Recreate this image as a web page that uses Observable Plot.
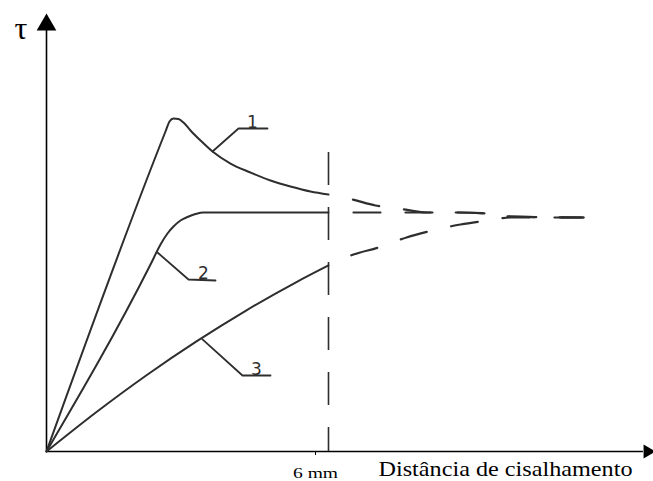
<!DOCTYPE html>
<html>
<head>
<meta charset="utf-8">
<script src="https://cdn.jsdelivr.net/npm/d3@7"></script>
<script src="https://cdn.jsdelivr.net/npm/@observablehq/plot@0.6"></script>
<style>
  html, body { margin: 0; padding: 0; background: #fff; }
</style>
</head>
<body>
<div id="chart"></div>
<script>
// Shear displacement (mm) and shear stress tau (arbitrary units, axis top = 100)
const curve1X = [0, 2.532, 2.617, 2.702, 2.809, 2.915, 3.064, 3.277, 3.532, 3.915, 4.340, 4.766, 5.191, 5.617, 6.0];
const curve1T = [0, 73.06, 75.34, 76.03, 75.91, 75.11, 73.29, 71.0, 68.49, 65.75, 63.70, 61.87, 60.50, 59.36, 58.68];

const curve2X = [0, 2.213, 2.426, 2.574, 2.702, 2.851, 3.0, 3.170, 3.340, 6.0];
const curve2T = [0, 42.69, 47.26, 49.77, 51.37, 52.74, 53.54, 54.22, 54.57, 54.57];

const curve3X = [0, 1.064, 2.128, 3.191, 4.255, 5.319, 6.0];
const curve3T = [0, 9.02, 17.42, 25.14, 32.24, 38.68, 42.47];

// extrapolated (dashed) parts beyond 6 mm
const ext1X = [6.0, 6.511, 7.0, 7.489, 8.106, 8.766, 9.383, 9.872, 11.426];
const ext1T = [58.68, 57.53, 56.16, 55.48, 54.57, 54.57, 54.34, 53.65, 53.42];
const ext2X = [6.0, 8.766, 9.383, 9.872, 11.426];
const ext2T = [54.57, 54.57, 54.34, 53.65, 53.42];
const ext3X = [6.0, 6.532, 7.064, 7.660, 8.128, 8.809, 9.383, 9.872, 11.426];
const ext3T = [42.47, 44.98, 46.58, 48.86, 50.23, 51.83, 52.74, 53.42, 53.42];

// label leaders (curve number, leader points)
const leaderNames = ["1", "2", "3"];
const leaderX = [[3.532, 4.085, 4.702], [2.362, 3.021, 3.596], [3.319, 4.170, 4.766]];
const leaderT = [[68.49, 73.74, 73.74], [45.43, 39.27, 39.04], [25.6, 17.35, 17.35]];
const labelX = [4.383, 3.34, 4.468];
const labelT = [75.2, 40.73, 18.81];

const limitX = 6;          // 6 mm limit
const limitTop = 68.26;
const xMax = 12.915;
const xArrowBase = 12.70;
const yArrowBase = 96.6;
const xTickLabels = ["6 mm"];
const xTitle = "Distância de cisalhamento";
const yTitle = "τ";

function rows(xs, ts, key) { return xs.map((x, i) => ({x, t: ts[i], key})); }
const solid = [...rows(curve1X, curve1T, "1"), ...rows(curve2X, curve2T, "2"), ...rows(curve3X, curve3T, "3")];
const dashed = [...rows(ext1X, ext1T, "1"), ...rows(ext2X, ext2T, "2"), ...rows(ext3X, ext3T, "3")];
const leaders = leaderNames.flatMap((n, j) => rows(leaderX[j], leaderT[j], n));
const labels = leaderNames.map((n, j) => ({x: labelX[j], t: labelT[j], n}));

const ink = "#2e2e2e";

const plot = Plot.plot({
  width: 653,
  height: 481,
  marginLeft: 46,
  marginRight: 0,
  marginTop: 13,
  marginBottom: 30,
  style: {background: "#fff", color: "#000"},
  x: {domain: [0, xMax], axis: null},
  y: {domain: [0, 100], axis: null},
  marks: [
    // axes
    Plot.ruleY([0], {x1: 0, x2: xArrowBase, stroke: "#000", strokeWidth: 1.6}),
    Plot.ruleX([0], {y1: 0, y2: yArrowBase, stroke: "#000", strokeWidth: 1.6}),
    Plot.dot([{x: 0, t: 97.4}], {x: "x", y: "t", symbol: "triangle", r: 7.3, fill: "#000", stroke: "none"}),
    Plot.dot([{x: 12.79, t: 0}], {x: "x", y: "t", symbol: "triangle", r: 5.2, fill: "#000", stroke: "none", rotate: 90}),
    Plot.axisX({ticks: [limitX], tickFormat: () => xTickLabels[0], label: null, tickSize: 4, tickPadding: 12, dx: -13,
      fontSize: 15, fontFamily: "Liberation Serif", stroke: "#000"}),
    // 6 mm limit
    Plot.ruleX([limitX], {y1: limitTop, y2: 0, stroke: ink, strokeWidth: 1.6, strokeDasharray: "33,22"}),
    // curves
    Plot.line(solid, {x: "x", y: "t", z: "key", curve: "monotone-x", stroke: ink, strokeWidth: 2}),
    Plot.line(dashed, {x: "x", y: "t", z: "key", curve: "monotone-x", stroke: ink, strokeWidth: 2.2,
      strokeDasharray: "27,25", strokeDashoffset: 27}),
    // labels
    Plot.line(leaders, {x: "x", y: "t", z: "key", stroke: ink, strokeWidth: 1.8}),
    Plot.text(labels, {x: "x", y: "t", text: "n", fontSize: 17, fontFamily: "DejaVu Sans", fill: ink, lineAnchor: "middle"}),
    // titles
    Plot.text([yTitle], {x: -0.543, y: 96.6, fontSize: 32, fontFamily: "Liberation Serif", fill: "#000", lineAnchor: "middle"}),
    Plot.text([xTitle], {x: 7.064, y: -3.88, fontSize: 22, fontFamily: "Liberation Serif", fill: "#000", textAnchor: "start", lineAnchor: "middle"})
  ]
});

d3.select(plot).selectAll("text").each(function () {
  const s = this.textContent;
  if (s === xTitle) d3.select(this).attr("textLength", 254).attr("lengthAdjust", "spacingAndGlyphs");
  if (s === xTickLabels[0]) d3.select(this).attr("textLength", 45).attr("lengthAdjust", "spacingAndGlyphs");
});

document.getElementById("chart").appendChild(plot);
</script>
</body>
</html>
